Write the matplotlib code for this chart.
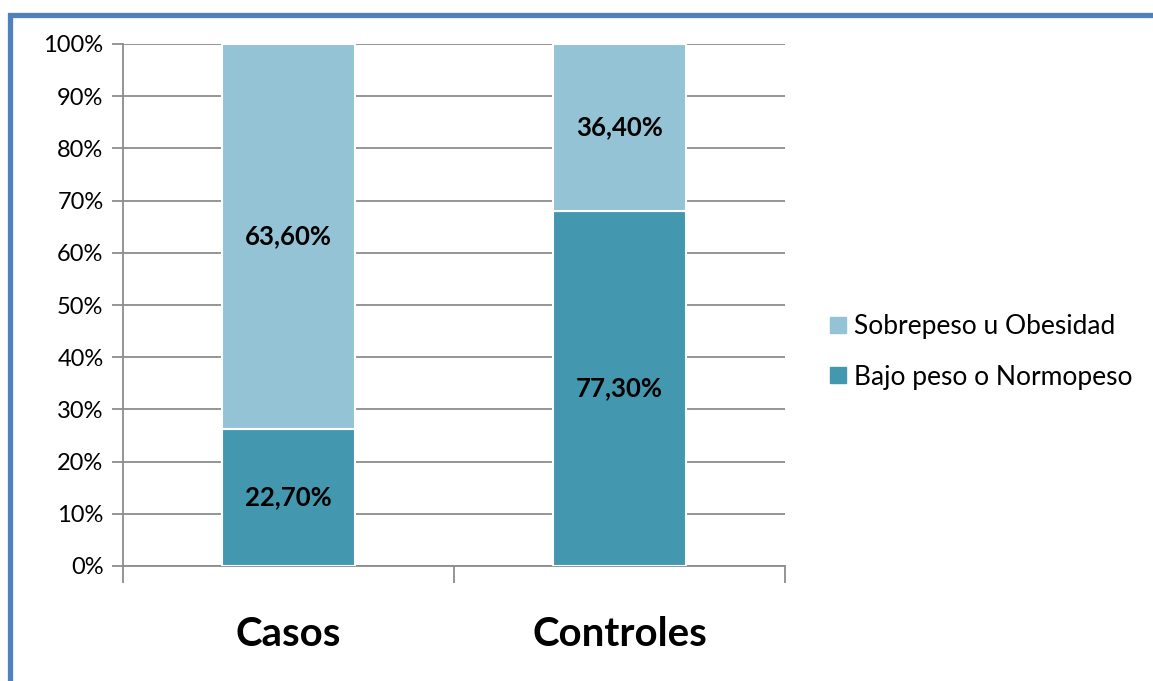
import matplotlib
matplotlib.use("Agg")
import matplotlib.pyplot as plt
from matplotlib.patches import Rectangle
from matplotlib.lines import Line2D
import numpy as np

plt.rcParams['font.family'] = ['Lato', 'DejaVu Sans']

categories = ["Casos", "Controles"]
series_names = ["Bajo peso o Normopeso", "Sobrepeso u Obesidad"]
bajo = [22.70, 77.30]
sobre = [63.60, 36.40]
label_bajo = ["22,70%", "77,30%"]
label_sobre = ["63,60%", "36,40%"]
yticks = [0, 10, 20, 30, 40, 50, 60, 70, 80, 90, 100]
ytick_labels = ["0%", "10%", "20%", "30%", "40%", "50%", "60%", "70%", "80%", "90%", "100%"]

c_bajo = "#4398B0"
c_sobre = "#93C3D5"
grid_c = "#8C8C8C"

W, H = 1153, 681
fig = plt.figure(figsize=(W / 100, H / 100), dpi=100)
ax = fig.add_axes([123 / W, 1 - 566 / H, (785 - 123) / W, (566 - 44) / H])

tot = np.array(bajo) + np.array(sobre)
pb = np.array(bajo) / tot * 100
ps = np.array(sobre) / tot * 100
x = np.arange(len(categories))
width = 0.4

ax.bar(x, pb, width, color=c_bajo, edgecolor="white", linewidth=1.5, zorder=3)
ax.bar(x, ps, width, bottom=pb, color=c_sobre, edgecolor="white", linewidth=1.5, zorder=3)

for i in range(len(categories)):
    ax.text(x[i], pb[i] / 2, label_bajo[i], ha="center", va="center",
            fontsize=18.5, fontweight="bold", color="black", zorder=4)
    ax.text(x[i], pb[i] + ps[i] / 2, label_sobre[i], ha="center", va="center",
            fontsize=18.5, fontweight="bold", color="black", zorder=4)

ax.set_xlim(-0.5, 1.5)
ax.set_ylim(0, 100)
ax.set_yticks(yticks)
ax.set_yticklabels(ytick_labels, fontsize=17)
ax.yaxis.grid(True, color=grid_c, linewidth=1.3, zorder=0)
ax.set_axisbelow(True)

ax.set_xticks(x)
ax.set_xticklabels(categories, fontsize=29, fontweight="bold")
ax.tick_params(axis="x", which="major", length=0, pad=36)
ax.set_xticks([-0.5, 0.5, 1.5], minor=True)
ax.tick_params(axis="x", which="minor", length=12, width=1.3, color=grid_c, direction="out")
ax.tick_params(axis="y", length=8, width=1.3, color=grid_c, direction="out", pad=6)

for s in ["top", "right"]:
    ax.spines[s].set_visible(False)
for s in ["left", "bottom"]:
    ax.spines[s].set_color(grid_c)
    ax.spines[s].set_linewidth(1.3)

handles = [Line2D([0], [0], marker="s", linestyle="none", markersize=11,
                  markerfacecolor=c_sobre, markeredgecolor=c_sobre),
           Line2D([0], [0], marker="s", linestyle="none", markersize=11,
                  markerfacecolor=c_bajo, markeredgecolor=c_bajo)]
fig.legend(handles, [series_names[1], series_names[0]], loc="center left",
           bbox_to_anchor=(826 / W, 1 - 352 / H), frameon=False, fontsize=19,
           handletextpad=0.15, labelspacing=0.95, handlelength=0.9,
           borderpad=0, borderaxespad=0)

# outer blue border (top and left visible)
fig.patches.append(Rectangle((10 / W, -0.1), 1.2, 1 - 15 / H + 0.1,
                             transform=fig.transFigure, fill=False,
                             edgecolor="#4F81BD", linewidth=3.8))

fig.savefig("out.png", dpi=100)
